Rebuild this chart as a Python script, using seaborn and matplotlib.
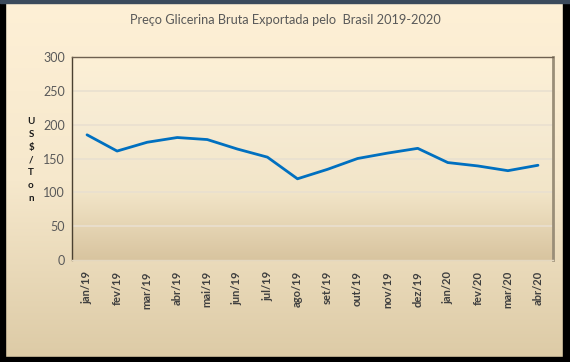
import numpy as np
import pandas as pd
import seaborn as sns
import matplotlib.pyplot as plt
from matplotlib.colors import LinearSegmentedColormap
from matplotlib.patches import Rectangle

# dados
meses = ['jan/19', 'fev/19', 'mar/19', 'abr/19', 'mai/19', 'jun/19', 'jul/19', 'ago/19',
         'set/19', 'out/19', 'nov/19', 'dez/19', 'jan/20', 'fev/20', 'mar/20', 'abr/20']
preco = [185, 161, 174, 181, 178, 164, 152, 120, 134, 150, 158, 165, 144, 139, 132, 140]

df = pd.DataFrame({'mes': meses, 'preco': preco})

sns.set_style('white')
plt.rcParams['font.family'] = ['Lato', 'DejaVu Sans']

fig = plt.figure(figsize=(5.7, 3.62), dpi=100)

# fundo do grafico com degradê
bg = fig.add_axes([0, 0, 1, 1], zorder=-10)
fig_cmap = LinearSegmentedColormap.from_list('fundo', ['#fef0d6', '#f6e8cc', '#dccaa5'])
bg.imshow(np.linspace(0, 1, 256).reshape(-1, 1), cmap=fig_cmap, aspect='auto',
          extent=[0, 1, 0, 1], origin='upper')
bg.set_xlim(0, 1)
bg.set_ylim(0, 1)
bg.axis('off')
# moldura preta
bg.add_patch(Rectangle((0, 0), 5 / 570, 1, color='black', transform=bg.transAxes))
bg.add_patch(Rectangle((563 / 570, 0), 7 / 570, 1, color='black', transform=bg.transAxes))
bg.add_patch(Rectangle((0, 0), 1, 5 / 362, color='black', transform=bg.transAxes))
bg.add_patch(Rectangle((0, 359 / 362), 1, 3 / 362, color='#3b4a5c', transform=bg.transAxes))

ax = fig.add_axes([72 / 570, 102 / 362, 481 / 570, 203 / 362])
ax.set_facecolor('none')

plot_cmap = LinearSegmentedColormap.from_list('area', ['#fdf0d6', '#f6ebd3', '#f2e5c8', '#d8c49f'])
ax.imshow(np.linspace(0, 1, 256).reshape(-1, 1), cmap=plot_cmap, aspect='auto',
          extent=[-0.5, 15.5, 0, 300], origin='upper', zorder=0)

for v in [50, 100, 150, 200, 250]:
    ax.axhline(v, color='#e9e0d0', lw=1.2, zorder=1)

sns.lineplot(data=df, x='mes', y='preco', ax=ax, color='#0070c0', lw=2, zorder=3)

ax.set_xlim(-0.5, 15.5)
ax.set_ylim(0, 300)
ax.set_yticks([0, 50, 100, 150, 200, 250, 300])
ax.set_xticks(range(len(meses)))
ax.set_xticklabels(meses, rotation=90, fontsize=8, fontweight='bold', color='#3f3f3f')
ax.tick_params(axis='y', labelsize=9, colors='#595959', length=0, pad=5)
ax.tick_params(axis='x', length=0, pad=8)
ax.set_xlabel('')
ax.set_ylabel('')

ax.spines['left'].set_color('#4a4030')
ax.spines['left'].set_linewidth(1)
ax.spines['top'].set_color('#6e6050')
ax.spines['top'].set_linewidth(1)
ax.spines['right'].set_color('#9a8e78')
ax.spines['right'].set_linewidth(2)
ax.spines['bottom'].set_color('#e4d8c0')
ax.spines['bottom'].set_linewidth(1)

fig.text(285 / 570, 1 - 20 / 362, 'Preço Glicerina Bruta Exportada pelo  Brasil 2019-2020',
         ha='center', va='center', fontsize=9.2, color='#595959')

fig.text(31 / 570, 1 - 160 / 362, '\n'.join('US$/Ton'), ha='center', va='center',
         fontsize=7, fontweight='bold', color='#1a1a1a', linespacing=1.55)

fig.savefig('out.png', dpi=100)
